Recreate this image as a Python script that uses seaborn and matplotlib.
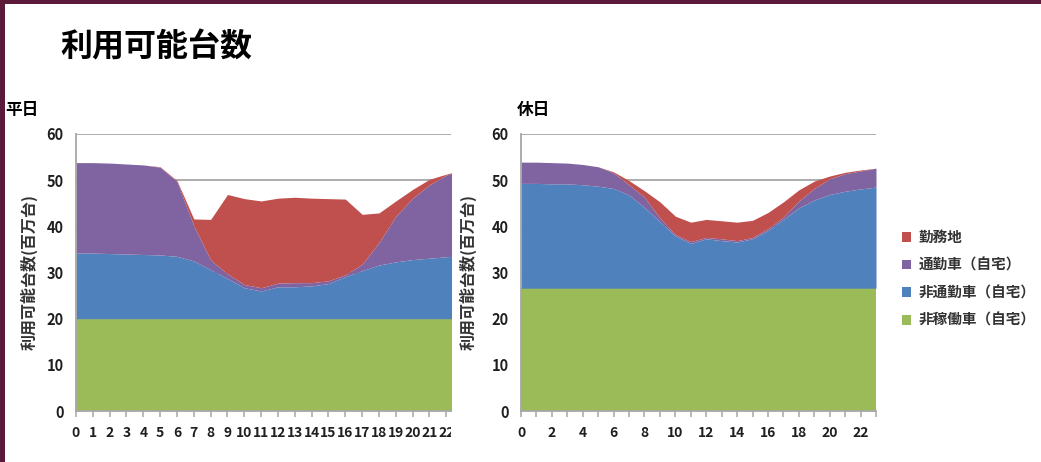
import matplotlib
matplotlib.use("Agg")
import matplotlib.pyplot as plt
import seaborn as sns
from matplotlib.patches import Patch, Rectangle
from matplotlib.transforms import Bbox, TransformedBbox

# 時刻（0〜23時）
hours = [0, 1, 2, 3, 4, 5, 6, 7, 8, 9, 10, 11,
         12, 13, 14, 15, 16, 17, 18, 19, 20, 21, 22, 23]

# 平日：区分別の利用可能台数（百万台）
weekday_idle = [20.0, 20.0, 20.0, 20.0, 20.0, 20.0, 20.0, 20.0, 20.0, 20.0, 20.0, 20.0,
                20.0, 20.0, 20.0, 20.0, 20.0, 20.0, 20.0, 20.0, 20.0, 20.0, 20.0, 20.0]
weekday_noncommute = [14.2, 14.2, 14.1, 14.0, 13.9, 13.8, 13.5, 12.5, 10.6, 8.7, 6.7, 6.0,
                      6.9, 6.9, 7.1, 7.6, 9.1, 10.4, 11.6, 12.3, 12.8, 13.1, 13.4, 13.7]
weekday_commute = [19.6, 19.6, 19.6, 19.5, 19.4, 19.0, 16.2, 7.6, 2.1, 1.0, 0.7, 0.7,
                   0.8, 0.9, 0.7, 0.6, 0.4, 1.4, 4.9, 9.9, 13.3, 15.9, 17.7, 18.5]
weekday_work = [0.0, 0.0, 0.0, 0.0, 0.0, 0.1, 0.2, 1.5, 8.8, 17.2, 18.6, 18.8,
                18.4, 18.5, 18.3, 17.8, 16.4, 10.8, 6.4, 3.3, 1.9, 1.2, 0.2, 0.1]

# 休日：区分別の利用可能台数（百万台）
holiday_idle = [26.6, 26.6, 26.6, 26.6, 26.6, 26.6, 26.6, 26.6, 26.6, 26.6, 26.6, 26.6,
                26.6, 26.6, 26.6, 26.6, 26.6, 26.6, 26.6, 26.6, 26.6, 26.6, 26.6, 26.6]
holiday_noncommute = [22.7, 22.7, 22.6, 22.6, 22.4, 22.1, 21.6, 20.2, 17.5, 14.4, 11.3, 9.7,
                      10.7, 10.3, 10.0, 10.7, 12.5, 14.9, 17.4, 19.1, 20.3, 21.0, 21.5, 21.9]
holiday_commute = [4.6, 4.6, 4.6, 4.5, 4.4, 4.2, 3.4, 2.2, 2.2, 0.8, 0.3, 0.4,
                   0.3, 0.4, 0.3, 0.3, 0.4, 0.5, 1.5, 2.5, 3.4, 3.8, 3.9, 4.1]
holiday_work = [0.0, 0.0, 0.0, 0.0, 0.0, 0.0, 0.2, 0.9, 1.4, 3.5, 4.0, 4.2,
                3.9, 3.9, 4.0, 3.7, 3.5, 3.3, 2.4, 1.6, 0.6, 0.3, 0.2, 0.0]

series_labels = ["非稼働車（自宅）", "非通勤車（自宅）", "通勤車（自宅）", "勤務地"]
series_colors = ["#9BBB59", "#4F81BD", "#8064A2", "#C0504D"]

title_text = "利用可能台数"
panel_titles = ["平日", "休日"]
y_label = "利用可能台数(百万台)"
y_ticks = [0, 10, 20, 30, 40, 50, 60]

sns.set_theme(style="white")
plt.rcParams["font.family"] = ["Noto Sans CJK JP", "DejaVu Sans"]

W, H = 1041, 462
fig = plt.figure(figsize=(W / 100, H / 100), dpi=100)
fig.patch.set_facecolor("white")

# 枠（上端・左端の帯）
fig.add_artist(Rectangle((0, 1 - 4 / H), 1, 4 / H, transform=fig.transFigure,
                         facecolor="#5B1A3A", edgecolor="none", zorder=10))
fig.add_artist(Rectangle((0, 0), 5 / W, 1, transform=fig.transFigure,
                         facecolor="#5B1A3A", edgecolor="none", zorder=10))

fig.text(60 / W, 1 - 47 / H, title_text, fontsize=23, fontweight="bold",
         color="black", ha="left", va="center")

grid_color = "#A6A6A6"
tick_color = "#1F1F1F"


def style_axes(ax, xmax):
    ax.set_xlim(0, xmax)
    ax.set_ylim(0, 60)
    ax.set_yticks(y_ticks)
    ax.set_axisbelow(True)
    ax.yaxis.grid(True, color=grid_color, linewidth=1.3)
    ax.xaxis.grid(False)
    for side in ["top", "right"]:
        ax.spines[side].set_visible(False)
    for side in ["left", "bottom"]:
        ax.spines[side].set_color(grid_color)
        ax.spines[side].set_linewidth(1.3)
    ax.tick_params(axis="y", length=0, pad=9, labelsize=10.5, labelcolor=tick_color)
    ax.tick_params(axis="x", which="both", direction="out", length=4, width=1.1,
                   color=grid_color, bottom=True, pad=7, labelsize=10,
                   labelcolor=tick_color)
    for lab in ax.get_yticklabels():
        lab.set_fontweight("bold")
    ax.set_ylabel(y_label, fontsize=11.5, fontweight="bold", color="#333333")


# 平日
ax1 = fig.add_axes([76 / W, 1 - 411 / H, 375 / W, 277 / H])
ax1.stackplot(hours, weekday_idle, weekday_noncommute, weekday_commute, weekday_work,
              colors=series_colors, linewidth=0)
style_axes(ax1, 22.28)
ax1.set_xticks(hours[:23])
ax1.set_xticklabels([str(h) for h in hours[:23]], fontweight="bold")
ax1.yaxis.set_label_coords(-0.101, 0.5)
clip = TransformedBbox(Bbox([[0, 0], [451 / W, 1]]), fig.transFigure)
for lab in ax1.get_xticklabels():
    lab.set_clip_on(True)
    lab.set_clip_box(clip)

# 休日
ax2 = fig.add_axes([521 / W, 1 - 411 / H, 355 / W, 277 / H])
ax2.stackplot(hours, holiday_idle, holiday_noncommute, holiday_commute, holiday_work,
              colors=series_colors, linewidth=0)
style_axes(ax2, 23)
ax2.set_xticks(hours)
ax2.set_xticklabels([str(h) if h % 2 == 0 else "" for h in hours], fontweight="bold")
ax2.yaxis.set_label_coords(-0.124, 0.5)

fig.text(5 / W, 1 - 110 / H, panel_titles[0], fontsize=12, fontweight="bold",
         ha="left", va="center", color="black")
fig.text(517 / W, 1 - 110 / H, panel_titles[1], fontsize=12, fontweight="bold",
         ha="left", va="center", color="black")

handles = [Patch(facecolor=c, edgecolor="none") for c in series_colors][::-1]
leg = fig.legend(handles, series_labels[::-1], loc="upper left",
                 bbox_to_anchor=(902 / W, 1 - 229 / H), frameon=False,
                 fontsize=10.5, handlelength=0.62, handleheight=0.62,
                 handletextpad=0.5, labelspacing=0.8, borderpad=0, borderaxespad=0)
for t in leg.get_texts():
    t.set_color("#333333")
    t.set_fontweight("bold")

fig.savefig("out.png", dpi=100, facecolor="white")
